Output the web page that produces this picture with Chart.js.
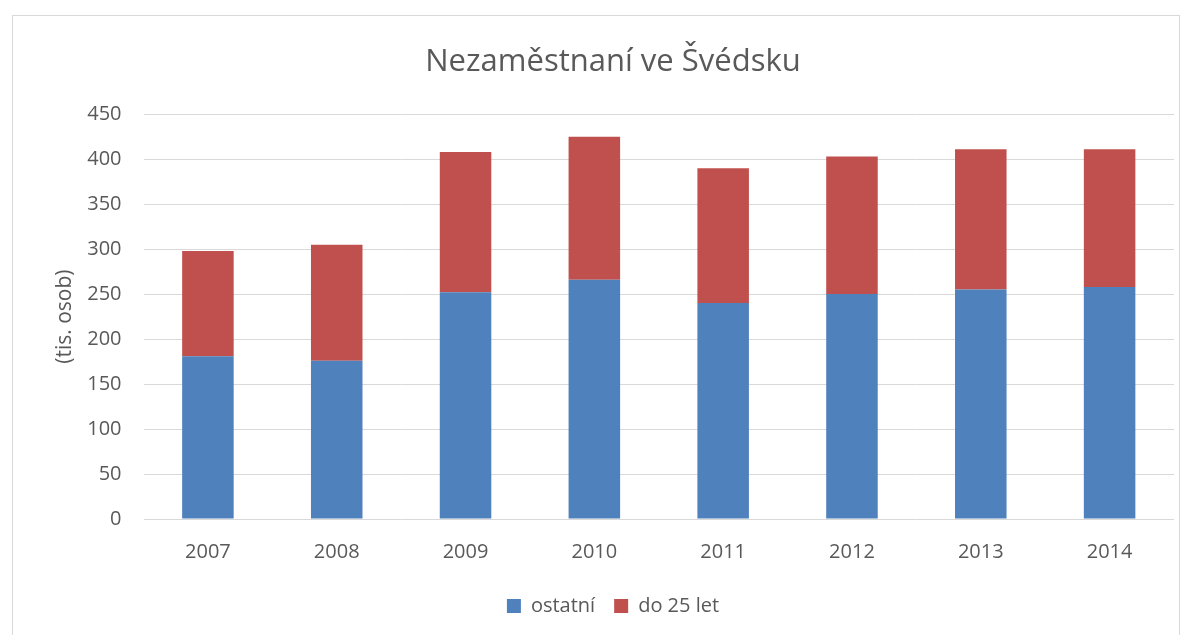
<!DOCTYPE html>
<html>
<head>
<meta charset="utf-8">
<script src="https://cdn.jsdelivr.net/npm/chart.js@4"></script>
<style>
  html, body { margin: 0; padding: 0; background: #fff; }
  #wrap { position: relative; width: 1192px; height: 635px; overflow: hidden; }
  #frame { position: absolute; left: 12px; top: 15px; width: 1168px; height: 640px; border: 1px solid #d9d9d9; box-sizing: border-box; }
  #chart { position: absolute; left: 0; top: 0; }
</style>
</head>
<body>
<div id="wrap">
  <div id="frame"></div>
  <canvas id="chart" width="1192" height="635"></canvas>
</div>
<script>
const years = ['2007', '2008', '2009', '2010', '2011', '2012', '2013', '2014'];
const ostatni = [181, 176, 252, 266, 240, 250, 255, 258];
const do25 = [117, 129, 156, 159, 150, 153, 156, 153];

const font = '"Open Sans", sans-serif';
const grey = '#595959';

new Chart(document.getElementById('chart'), {
    type: 'bar',
    data: {
        labels: years,
        datasets: [
            { label: 'ostatní', data: ostatni, backgroundColor: '#4f81bd', barPercentage: 0.4, categoryPercentage: 1 },
            { label: 'do 25 let', data: do25, backgroundColor: '#c0504d', barPercentage: 0.4, categoryPercentage: 1 }
        ]
    },
    options: {
        responsive: false, animation: false,
        layout: { padding: { left: 52, right: 18, top: 44, bottom: 9 } },
        plugins: {
            title: { display: true, text: 'Nezaměstnaní ve Švédsku', color: grey, font: { family: font, size: 31, weight: 'normal' }, padding: { top: 0, bottom: 33 } },
            legend: { position: 'bottom', labels: { color: grey, font: { family: font, size: 20 }, boxWidth: 14, boxHeight: 14, padding: 19 } },
            tooltip: { enabled: false }
        },
        scales: {
            x: {
                stacked: true,
                grid: { display: false },
                border: { display: false },
                ticks: { color: grey, font: { family: font, size: 20 }, padding: 13 }
            },
            y: {
                stacked: true, min: 0, max: 450,
                grid: { color: '#d9d9d9', drawTicks: false, lineWidth: 1 },
                border: { display: false },
                ticks: { stepSize: 50, color: grey, font: { family: font, size: 20 }, padding: 22 },
                title: { display: true, text: '(tis. osob)', color: grey, font: { family: font, size: 21 }, padding: { top: 0, bottom: -12 } }
            }
        }
    }
});
</script>
</body>
</html>
